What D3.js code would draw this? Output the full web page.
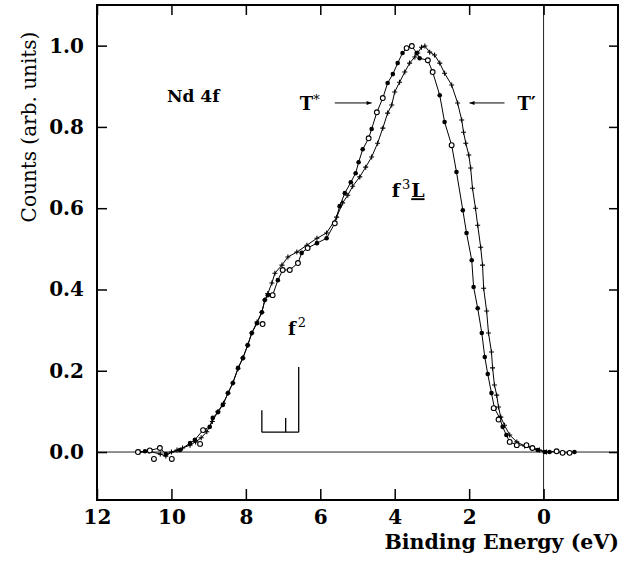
<!DOCTYPE html>
<html lang="en">
<head>
<meta charset="utf-8">
<title>Nd 4f</title>
<style>
  body { margin: 0; background: #fff; }
  svg text { font-family: "DejaVu Serif", "Liberation Serif", serif; fill: #000; }
</style>
</head>
<body>
<div id="chart"></div>
<script src="https://cdn.jsdelivr.net/npm/d3@7"></script>
<script>
// ---------------------------------------------------------------- DATA
// binding energy (eV), counts (arb. units)
var tStar = [
  [10.90,0.000],[10.71,0.002],[10.58,0.004],[10.31,0.010],[10.15,-0.005],[9.77,0.005],
  [9.50,0.022],[9.37,0.030],[9.15,0.054],[8.97,0.062],[8.89,0.084],[8.75,0.098],
  [8.62,0.116],[8.48,0.145],[8.35,0.170],[8.21,0.207],[8.08,0.231],[7.95,0.263],
  [7.84,0.293],[7.70,0.317],[7.57,0.344],[7.49,0.374],[7.41,0.386],[7.28,0.386],
  [7.14,0.423],[7.01,0.448],[6.82,0.448],[6.60,0.465],[6.50,0.490],[6.34,0.502],
  [6.09,0.514],[5.83,0.526],[5.61,0.563],[5.48,0.605],[5.34,0.637],[5.18,0.664],
  [5.05,0.686],[4.97,0.713],[4.86,0.745],[4.70,0.772],[4.62,0.795],[4.48,0.836],
  [4.32,0.871],[4.19,0.908],[4.05,0.930],[3.92,0.957],[3.79,0.982],[3.68,0.994],
  [3.54,0.999],[3.41,0.982],[3.33,0.969],[3.11,0.964],[2.98,0.935],[2.79,0.878],
  [2.66,0.812],[2.47,0.755],[2.34,0.689],[2.17,0.595],[2.07,0.539],[1.93,0.472],
  [1.88,0.406],[1.77,0.354],[1.66,0.293],[1.58,0.234],[1.50,0.192],[1.40,0.145],
  [1.32,0.108],[1.18,0.084],[1.10,0.062],[1.00,0.042],[0.91,0.025],[0.72,0.017],
  [0.46,0.017],[0.32,0.010],[0.16,0.005],[-0.03,0.000],[-0.16,0.000],[-0.35,0.002],
  [-0.51,-0.002],[-0.70,-0.002],[-0.83,0.000]
];

var tPrime = [
  [10.85,0.000],[10.60,0.002],[10.30,-0.005],[10.15,-0.010],[10.00,0.000],[9.85,0.005],
  [9.70,0.010],[9.50,0.017],[9.35,0.025],[9.20,0.035],[9.05,0.050],[8.90,0.075],
  [8.75,0.100],[8.60,0.120],[8.48,0.145],[8.35,0.170],[8.21,0.205],[8.08,0.232],
  [7.95,0.263],[7.84,0.293],[7.70,0.320],[7.57,0.344],[7.49,0.374],[7.41,0.390],
  [7.30,0.416],[7.22,0.440],[7.03,0.460],[6.87,0.480],[6.63,0.492],[6.36,0.509],
  [6.09,0.526],[5.83,0.539],[5.56,0.578],[5.40,0.613],[5.26,0.632],[5.13,0.654],
  [4.94,0.677],[4.78,0.701],[4.62,0.726],[4.46,0.760],[4.32,0.797],[4.19,0.834],
  [4.08,0.854],[4.00,0.886],[3.87,0.910],[3.73,0.935],[3.60,0.957],[3.46,0.972],
  [3.38,0.982],[3.28,0.996],[3.19,0.999],[3.06,0.984],[2.93,0.977],[2.79,0.957],
  [2.66,0.932],[2.47,0.903],[2.31,0.859],[2.20,0.817],[2.15,0.787],[2.09,0.760],
  [2.01,0.731],[1.96,0.699],[1.91,0.649],[1.83,0.600],[1.77,0.558],[1.69,0.504],
  [1.64,0.460],[1.61,0.403],[1.53,0.347],[1.48,0.293],[1.40,0.246],[1.37,0.207],
  [1.32,0.165],[1.26,0.140],[1.21,0.111],[1.15,0.086],[1.05,0.066],[0.91,0.042],
  [0.72,0.025],[0.51,0.015],[0.30,0.010],[0.11,0.005],[-0.08,0.000]
];

// open circles (scattered points, no line)
var openPts = [
  [10.90,0.000],[10.58,0.004],[10.47,-0.017],[10.31,0.010],[9.99,-0.017],[9.23,0.020],
  [9.15,0.054],[7.55,0.315],[7.28,0.386],[7.01,0.448],[6.82,0.448],[6.60,0.465],
  [6.34,0.502],[5.61,0.563],[4.70,0.772],[4.48,0.836],[4.32,0.871],[3.68,0.994],
  [3.54,0.999],[3.11,0.964],[2.98,0.935],[2.47,0.755],[1.34,0.108],[1.21,0.080],
  [0.91,0.025],[0.72,0.017],[0.46,0.017],[0.30,0.010],[-0.35,0.002],[-0.51,-0.002],
  [-0.70,-0.002]
];

// f2 final state multiplet sticks: energy, height
var sticks = [[7.57,0.103],[6.93,0.084],[6.58,0.209]];
var stickBase = 0.049;

var xTicks = [12, 10, 8, 6, 4, 2, 0];
var yTicks = [0.0, 0.2, 0.4, 0.6, 0.8, 1.0];

// ---------------------------------------------------------------- SETUP
var W = 626, H = 561;
var L = 97, R = 618, T = 5, B = 500;

var x = d3.scaleLinear().domain([12, -2]).range([L, R]);
var y = d3.scaleLinear().domain([-0.118, 1.10]).range([B, T]);

var svg = d3.select("#chart").append("svg")
  .attr("width", W).attr("height", H);

// zero lines
svg.append("line")
  .attr("x1", L).attr("x2", R).attr("y1", y(0)).attr("y2", y(0))
  .attr("stroke", "#222").attr("stroke-width", 1);
svg.append("line")
  .attr("x1", x(0)).attr("x2", x(0)).attr("y1", T).attr("y2", B)
  .attr("stroke", "#222").attr("stroke-width", 1);

// axes with inward ticks
function styleAxis(g) {
  g.select(".domain").remove();
  g.selectAll("line").attr("stroke", "#000").attr("stroke-width", 1.5);
  g.selectAll("text").attr("font-family", "DejaVu Serif").attr("font-weight", "bold")
    .attr("font-size", 20).attr("fill", "#000");
}

svg.append("g").attr("transform", "translate(0," + B + ")")
  .call(d3.axisBottom(x).tickValues(xTicks).tickSize(-11).tickPadding(10).tickFormat(d3.format("d")))
  .call(styleAxis);
svg.append("g").attr("transform", "translate(0," + T + ")")
  .call(d3.axisTop(x).tickValues(xTicks).tickSize(-10).tickFormat(""))
  .call(styleAxis);
svg.append("g").attr("transform", "translate(" + L + ",0)")
  .call(d3.axisLeft(y).tickValues(yTicks).tickSize(-10).tickPadding(13).tickFormat(d3.format(".1f")))
  .call(styleAxis);
svg.append("g").attr("transform", "translate(" + R + ",0)")
  .call(d3.axisRight(y).tickValues(yTicks).tickSize(-9).tickFormat(""))
  .call(styleAxis);

// frame
svg.append("rect")
  .attr("x", L).attr("y", T).attr("width", R - L).attr("height", B - T)
  .attr("fill", "none").attr("stroke", "#000").attr("stroke-width", 2);

// ---------------------------------------------------------------- CURVES
var line = d3.line().x(d => x(d[0])).y(d => y(d[1]));

svg.append("path").datum(tStar).attr("d", line)
  .attr("fill", "none").attr("stroke", "#000").attr("stroke-width", 1);
svg.append("path").datum(tPrime).attr("d", line)
  .attr("fill", "none").attr("stroke", "#000").attr("stroke-width", 1);

svg.append("g").selectAll("circle").data(tStar).join("circle")
  .attr("cx", d => x(d[0])).attr("cy", d => y(d[1])).attr("r", 2.3)
  .attr("fill", "#000");

svg.append("g").selectAll("path").data(tPrime).join("path")
  .attr("d", d => { var px = x(d[0]), py = y(d[1]);
    return "M" + (px - 2.5) + "," + py + "H" + (px + 2.5) + "M" + px + "," + (py - 2.5) + "V" + (py + 2.5); })
  .attr("stroke", "#000").attr("stroke-width", 1.1);

svg.append("g").selectAll("circle").data(openPts).join("circle")
  .attr("cx", d => x(d[0])).attr("cy", d => y(d[1])).attr("r", 2.4)
  .attr("fill", "#fff").attr("stroke", "#000").attr("stroke-width", 1.1);

// stick diagram
svg.append("path")
  .attr("d", "M" + x(sticks[0][0]) + "," + y(stickBase) + "H" + x(sticks[sticks.length - 1][0]))
  .attr("stroke", "#000").attr("stroke-width", 1.3);
svg.append("g").selectAll("line").data(sticks).join("line")
  .attr("x1", d => x(d[0])).attr("x2", d => x(d[0]))
  .attr("y1", y(stickBase)).attr("y2", d => y(d[1]))
  .attr("stroke", "#000").attr("stroke-width", 1.3);

// ---------------------------------------------------------------- LABELS
svg.append("text")
  .attr("transform", "translate(36,127) rotate(-90)")
  .attr("text-anchor", "middle").attr("font-size", 20)
  .text("Counts (arb. units)");

svg.append("text")
  .attr("x", 619).attr("y", 549).attr("text-anchor", "end")
  .attr("font-size", 20.5).attr("font-weight", "bold")
  .text("Binding Energy (eV)");

svg.append("text").attr("x", x(10.12)).attr("y", y(0.861))
  .attr("font-size", 17).attr("font-weight", "bold").text("Nd 4f");

var ts = svg.append("text").attr("x", x(6.55)).attr("y", y(0.841))
  .attr("font-size", 18).attr("font-weight", "bold");
ts.append("tspan").text("T");
ts.append("tspan").attr("font-size", 13).attr("dy", -6).attr("font-weight", "normal").text("*");

svg.append("text").attr("x", x(0.70)).attr("y", y(0.841))
  .attr("font-size", 18).attr("font-weight", "bold").text("T\u2032");

// arrows
svg.append("defs").append("marker")
  .attr("id", "ah").attr("viewBox", "0 0 10 10").attr("refX", 10).attr("refY", 5)
  .attr("markerWidth", 7).attr("markerHeight", 5).attr("orient", "auto")
  .append("path").attr("d", "M0,1L10,5L0,9Z").attr("fill", "#000");

var arrows = [[5.61, 4.62], [1.05, 1.99]];
svg.append("g").selectAll("line").data(arrows).join("line")
  .attr("x1", d => x(d[0])).attr("x2", d => x(d[1]))
  .attr("y1", y(0.859)).attr("y2", y(0.859))
  .attr("stroke", "#000").attr("stroke-width", 1)
  .attr("marker-end", "url(#ah)");

var f3 = svg.append("text").attr("x", x(4.08)).attr("y", y(0.627))
  .attr("font-size", 19).attr("font-weight", "bold");
f3.append("tspan").text("f");
f3.append("tspan").attr("font-size", 13).attr("font-weight", "normal").attr("dy", -8).attr("dx", 2).text("3");
f3.append("tspan").attr("dy", 8).attr("dx", 1).attr("text-decoration", "underline").text("L");

var f2 = svg.append("text").attr("x", x(6.87)).attr("y", y(0.288))
  .attr("font-size", 18).attr("font-weight", "bold");
f2.append("tspan").text("f");
f2.append("tspan").attr("font-size", 13).attr("font-weight", "normal").attr("dy", -8).attr("dx", 2).text("2");
</script>
</body>
</html>
